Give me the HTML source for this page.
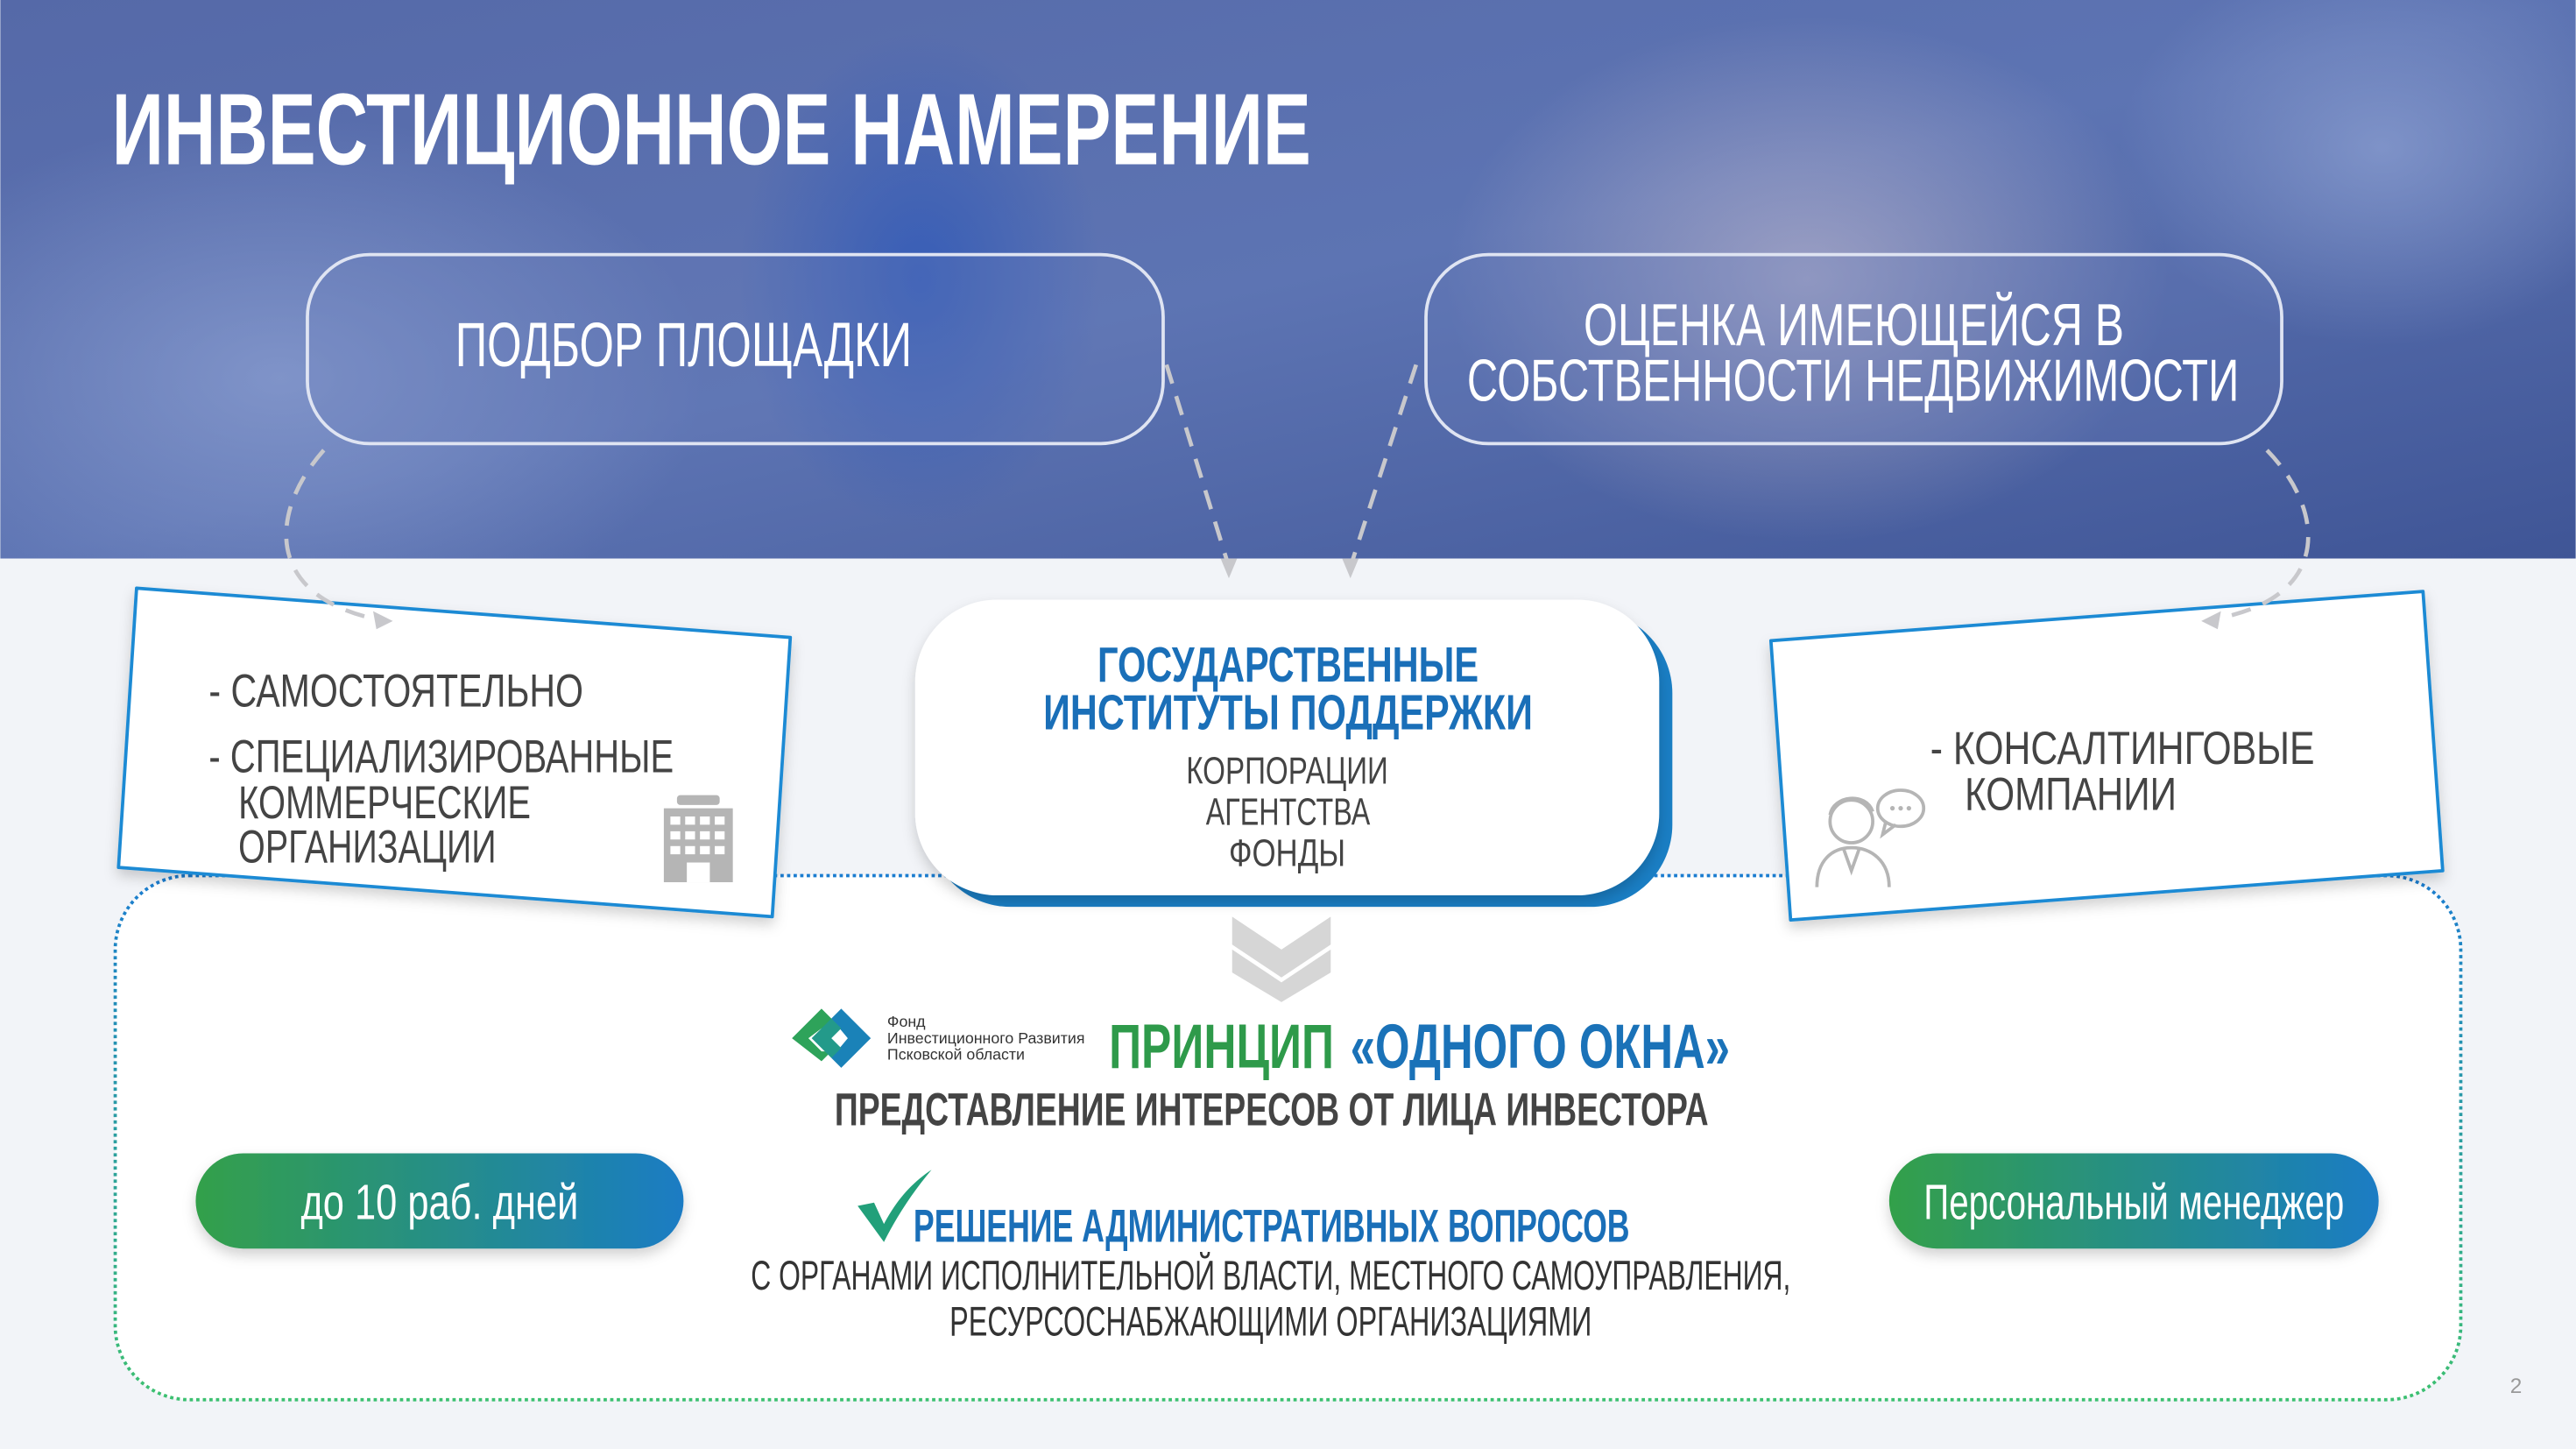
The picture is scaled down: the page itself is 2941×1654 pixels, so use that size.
<!DOCTYPE html>
<html><head><meta charset="utf-8"><style>
html,body{margin:0;padding:0;background:#f2f4f8;}
svg{display:block;}
text{font-family:"Liberation Sans Narrow","Liberation Sans",sans-serif;}
</style></head><body>
<svg width="2941" height="1654" viewBox="0 0 1568 882" xmlns="http://www.w3.org/2000/svg">
<defs>
<linearGradient id="bg" x1="0" y1="0" x2="1" y2="1">
<stop offset="0" stop-color="#5569a8"/><stop offset="0.5" stop-color="#5d74b3"/><stop offset="1" stop-color="#3f5596"/>
</linearGradient>
<radialGradient id="blob1" cx="0.5" cy="0.5" r="0.5"><stop offset="0" stop-color="#8fa2d3" stop-opacity="0.7"/><stop offset="1" stop-color="#8fa2d3" stop-opacity="0"/></radialGradient>
<radialGradient id="blob2" cx="0.5" cy="0.5" r="0.5"><stop offset="0" stop-color="#2e58b8" stop-opacity="0.8"/><stop offset="1" stop-color="#2e58b8" stop-opacity="0"/></radialGradient>
<radialGradient id="blob3" cx="0.5" cy="0.5" r="0.5"><stop offset="0" stop-color="#c9c0d2" stop-opacity="0.6"/><stop offset="1" stop-color="#c9c0d2" stop-opacity="0"/></radialGradient>
<linearGradient id="pill" x1="0" y1="0" x2="1" y2="0"><stop offset="0" stop-color="#33a04a"/><stop offset="1" stop-color="#1a7cc4"/></linearGradient>
<linearGradient id="dotg" x1="0" y1="0" x2="0" y2="1"><stop offset="0" stop-color="#1a7cd0"/><stop offset="1" stop-color="#3cc070"/></linearGradient>
<filter id="sh" x="-10%" y="-10%" width="130%" height="140%"><feDropShadow dx="0" dy="4" stdDeviation="4" flood-color="#000" flood-opacity="0.18"/></filter>
<clipPath id="topclip"><rect width="1568" height="340"/></clipPath>
</defs>
<rect width="1568" height="882" fill="#f2f4f8"/>
<g clip-path="url(#topclip)">
<rect width="1568" height="340" fill="url(#bg)"/>
<ellipse cx="170" cy="230" rx="260" ry="160" fill="url(#blob1)"/>
<ellipse cx="560" cy="170" rx="110" ry="150" fill="url(#blob2)"/>
<ellipse cx="1100" cy="170" rx="220" ry="160" fill="url(#blob3)"/>
<ellipse cx="1450" cy="90" rx="160" ry="120" fill="url(#blob1)"/>
</g>

<text x="68" y="100" font-size="62" font-weight="bold" fill="#fff" textLength="730" lengthAdjust="spacingAndGlyphs">ИНВЕСТИЦИОННОЕ НАМЕРЕНИЕ</text>

<rect x="187" y="155" width="521" height="115" rx="38" fill="#6a7fbd" fill-opacity="0.25" stroke="#dfe4f2" stroke-width="2"/>
<text x="277" y="223" font-size="38" fill="#fff" textLength="278" lengthAdjust="spacingAndGlyphs">ПОДБОР ПЛОЩАДКИ</text>
<rect x="868" y="155" width="521" height="115" rx="38" fill="#6a7fbd" fill-opacity="0.25" stroke="#dfe4f2" stroke-width="2"/>
<text x="964" y="210" font-size="36" fill="#fff" textLength="329" lengthAdjust="spacingAndGlyphs">ОЦЕНКА ИМЕЮЩЕЙСЯ В</text>
<text x="893" y="244" font-size="36" fill="#fff" textLength="470" lengthAdjust="spacingAndGlyphs">СОБСТВЕННОСТИ НЕДВИЖИМОСТИ</text>

<!-- big dotted container -->
<rect x="70" y="533" width="1428" height="319" rx="45" fill="#fff" stroke="url(#dotg)" stroke-width="2" stroke-dasharray="2 2"/>

<!-- left card -->
<polygon points="83,358 481,388 470,558 72,528" fill="#fff" stroke="#1a8ad4" stroke-width="2" stroke-linejoin="round" filter="url(#sh)"/>
<g fill="#444" font-size="28">
<text x="127" y="430" textLength="228" lengthAdjust="spacingAndGlyphs">- САМОСТОЯТЕЛЬНО</text>
<text x="127" y="470" textLength="283" lengthAdjust="spacingAndGlyphs">- СПЕЦИАЛИЗИРОВАННЫЕ</text>
<text x="145" y="498" textLength="178" lengthAdjust="spacingAndGlyphs">КОММЕРЧЕСКИЕ</text>
<text x="145" y="525" textLength="157" lengthAdjust="spacingAndGlyphs">ОРГАНИЗАЦИИ</text>
</g>
<g fill="#b5b5b5">
<rect x="412" y="484" width="26" height="6" rx="2"/>
<rect x="404" y="492" width="42" height="45"/>
</g>
<g fill="#fff">
<rect x="408" y="497" width="6" height="5"/><rect x="417" y="497" width="6" height="5"/><rect x="426" y="497" width="6" height="5"/><rect x="435" y="497" width="6" height="5"/>
<rect x="408" y="506" width="6" height="5"/><rect x="417" y="506" width="6" height="5"/><rect x="426" y="506" width="6" height="5"/><rect x="435" y="506" width="6" height="5"/>
<rect x="408" y="515" width="6" height="5"/><rect x="417" y="515" width="6" height="5"/><rect x="426" y="515" width="6" height="5"/><rect x="435" y="515" width="6" height="5"/>
<rect x="418" y="525" width="14" height="12"/>
</g>

<!-- right card -->
<polygon points="1078,390 1475,360 1487,530 1090,560" fill="#fff" stroke="#1a8ad4" stroke-width="2" stroke-linejoin="round" filter="url(#sh)"/>
<g fill="#444" font-size="28">
<text x="1175" y="465" textLength="234" lengthAdjust="spacingAndGlyphs">- КОНСАЛТИНГОВЫЕ</text>
<text x="1196" y="493" textLength="129" lengthAdjust="spacingAndGlyphs">КОМПАНИИ</text>
</g>
<g fill="none" stroke="#b5b5b5" stroke-width="2">
<circle cx="1127" cy="500" r="13"/>
<path d="M1114 496 C1116 484 1136 482 1140 494"/>
<path d="M1106 540 C1106 524 1115 516 1127 516 C1139 516 1150 524 1150 540"/>
<path d="M1122 516 L1127 530 L1132 516"/>
<ellipse cx="1157" cy="492" rx="14" ry="11"/>
<path d="M1148 500 L1146 508 L1154 502"/>
</g>
<g fill="#b5b5b5"><circle cx="1152" cy="492" r="1.4"/><circle cx="1157" cy="492" r="1.4"/><circle cx="1162" cy="492" r="1.4"/></g>

<!-- dashed connectors on top -->
<g fill="none" stroke="#c8c8cc" stroke-width="2.5" stroke-dasharray="12 8">
<path d="M197 274 C165 310 160 360 225 376"/>
<path d="M710 222 L748 345"/>
<path d="M862 222 L822 345"/>
<path d="M1380 274 C1415 310 1420 362 1352 376"/>
</g>
<g fill="#c8c8cc">
<polygon points="239,378 227,372 229,383"/>
<polygon points="748,352 743,340 753,340"/>
<polygon points="822,352 817,340 827,340"/>
<polygon points="1340,378 1352,372 1350,383"/>
</g>

<!-- center card -->
<rect x="565" y="372" width="453" height="180" rx="50" fill="#1a7ec4"/>
<rect x="557" y="365" width="453" height="180" rx="50" fill="#fff" filter="url(#sh)"/>
<text x="668" y="415" font-size="30" font-weight="bold" fill="#1a6fb8" textLength="232" lengthAdjust="spacingAndGlyphs">ГОСУДАРСТВЕННЫЕ</text>
<text x="635" y="444" font-size="30" font-weight="bold" fill="#1a6fb8" textLength="298" lengthAdjust="spacingAndGlyphs">ИНСТИТУТЫ ПОДДЕРЖКИ</text>
<g fill="#444" font-size="23">
<text x="722" y="477" textLength="123" lengthAdjust="spacingAndGlyphs">КОРПОРАЦИИ</text>
<text x="734" y="502" textLength="100" lengthAdjust="spacingAndGlyphs">АГЕНТСТВА</text>
<text x="748" y="527" textLength="71" lengthAdjust="spacingAndGlyphs">ФОНДЫ</text>
</g>

<!-- chevron -->
<g fill="#d6d6d6">
<polygon points="750,558 780,578 810,558 810,575 780,595 750,575"/>
<polygon points="750,578 780,598 810,578 810,592 780,610 750,592"/>
</g>

<!-- logo -->
<polygon points="482,632 500,614 512,626 500,626 492,632 500,640 506,640 500,646" fill="#2ea35a"/>
<polygon points="530,632 512,614 506,620 516,632 506,644 512,650" fill="#1a82b8"/>
<polygon points="494,632 506,620 512,626 506,632 512,638 506,644" fill="#239a8a"/>
<g fill="#333" font-size="9.5" font-family="Liberation Sans, sans-serif">
<text x="540" y="625">Фонд</text>
<text x="540" y="635">Инвестиционного Развития</text>
<text x="540" y="645">Псковской области</text>
</g>
<text x="675" y="650" font-size="38" font-weight="bold" fill="#2e9a4a" textLength="137" lengthAdjust="spacingAndGlyphs">ПРИНЦИП</text>
<text x="822" y="650" font-size="38" font-weight="bold" fill="#1a72b8" textLength="231" lengthAdjust="spacingAndGlyphs">«ОДНОГО ОКНА»</text>
<text x="508" y="685" font-size="28" font-weight="bold" fill="#444" textLength="532" lengthAdjust="spacingAndGlyphs">ПРЕДСТАВЛЕНИЕ ИНТЕРЕСОВ ОТ ЛИЦА ИНВЕСТОРА</text>

<!-- pills -->
<rect x="119" y="702" width="297" height="58" rx="29" fill="url(#pill)" filter="url(#sh)"/>
<text x="183" y="742" font-size="30" fill="#fff" textLength="169" lengthAdjust="spacingAndGlyphs">до 10 раб. дней</text>
<rect x="1150" y="702" width="298" height="58" rx="29" fill="url(#pill)" filter="url(#sh)"/>
<text x="1171" y="742" font-size="30" fill="#fff" textLength="256" lengthAdjust="spacingAndGlyphs">Персональный менеджер</text>

<!-- check -->
<path d="M522 734 L532 732 L538 745 C546 730 555 720 567 712 C556 725 546 740 538 756 Z" fill="#22a07a"/>
<text x="556" y="756" font-size="28" font-weight="bold" fill="#1a6fb8" textLength="436" lengthAdjust="spacingAndGlyphs">РЕШЕНИЕ АДМИНИСТРАТИВНЫХ ВОПРОСОВ</text>
<text x="457" y="785" font-size="25" fill="#333" textLength="633" lengthAdjust="spacingAndGlyphs">С ОРГАНАМИ ИСПОЛНИТЕЛЬНОЙ ВЛАСТИ, МЕСТНОГО САМОУПРАВЛЕНИЯ,</text>
<text x="578" y="813" font-size="25" fill="#333" textLength="391" lengthAdjust="spacingAndGlyphs">РЕСУРСОСНАБЖАЮЩИМИ ОРГАНИЗАЦИЯМИ</text>

<text x="1528" y="848" font-size="13" fill="#999">2</text>
</svg>
</body></html>
